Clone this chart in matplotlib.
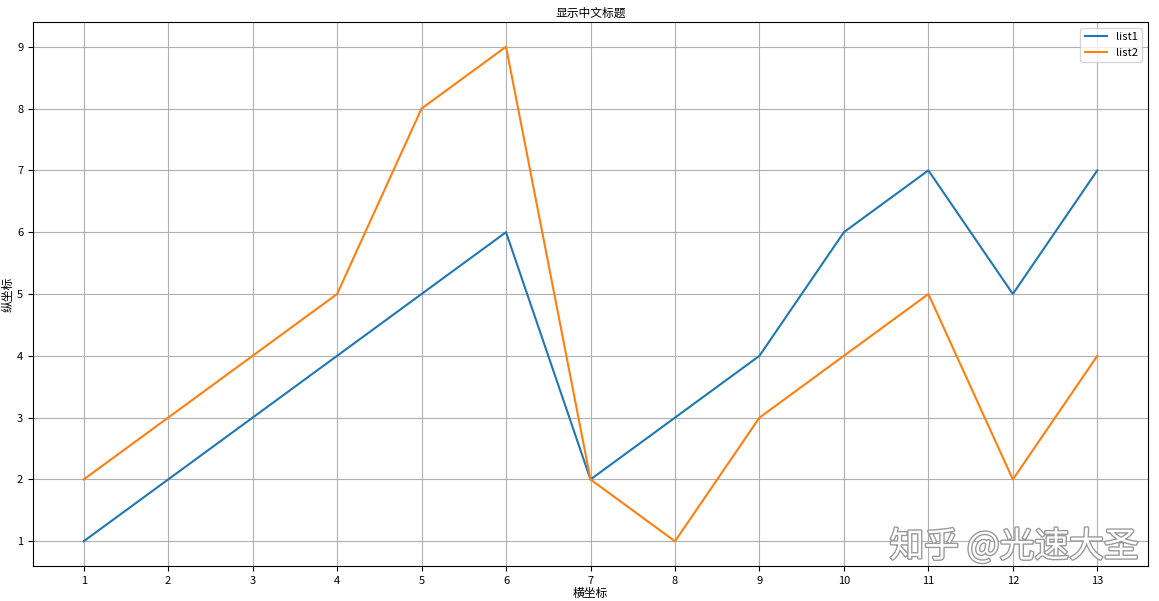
import matplotlib
matplotlib.use("Agg")
import matplotlib.pyplot as plt
import matplotlib.patheffects as pe

plt.rcParams['font.family'] = ['Noto Sans CJK SC', 'DejaVu Sans']
plt.rcParams['axes.unicode_minus'] = False

x = list(range(1, 14))
list1 = [1, 2, 3, 4, 5, 6, 2, 3, 4, 6, 7, 5, 7]
list2 = [2, 3, 4, 5, 8, 9, 2, 1, 3, 4, 5, 2, 4]
title = "显示中文标题"
xlabel = "横坐标"
ylabel = "纵坐标"

fig = plt.figure(figsize=(11.59, 6.01), dpi=100)
ax = fig.add_axes([33/1159, 1-566/601, (1148-33)/1159, (566-22)/601])
ax.plot(x, list1, label="list1")
ax.plot(x, list2, label="list2")
ax.set_xticks(x)
ax.set_title(title, fontsize=8.5, pad=4)
ax.set_xlabel(xlabel, fontsize=8.5, labelpad=1)
ax.set_ylabel(ylabel, fontsize=8.5, labelpad=2)
ax.tick_params(labelsize=8)
ax.grid(True)
ax.legend(loc="upper right", fontsize=8)

fig.text(0.875, 0.09, "知乎 @光速大圣", fontsize=25, color="white", ha="center", va="center",
         path_effects=[pe.withStroke(linewidth=2, foreground="#9a9a9a")])

fig.savefig("out.png", dpi=100)
